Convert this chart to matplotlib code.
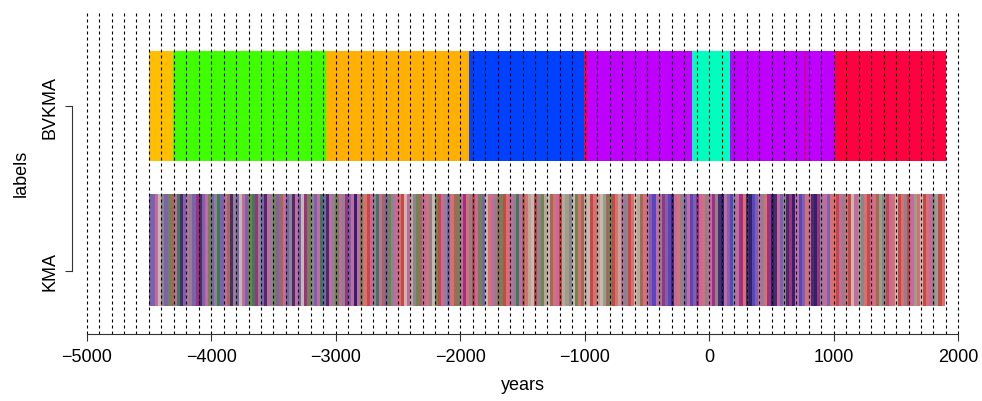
import numpy as np
import matplotlib.pyplot as plt

plt.rcParams['font.family'] = ['Liberation Sans', 'DejaVu Sans']

# BVKMA row: segment edges (years) and colours
bv_edges = [-4500, -4305, -3080, -1932, -1010, -985, -135, 163, 759, 775, 1011, 1900]
bv_colors = ['#FFBF00', '#40FF00', '#FFB000', '#0040FF', '#FF0040', '#BF00FF',
             '#00FFBF', '#BF00FF', '#D000A0', '#BF00FF', '#FF0040']

# KMA row: many thin stripes, read left to right (equal widths)
kma_start, kma_end = -4500, 1890
kma_codes = ("PPKLGPOWKTDPKGPMDPKOPGTPKWDGPLKPOTMGPDKGOPWKPGDKPLMOGPKTPDKG"
             "OKGMPKNKOSRKGTKWPOGKSRLKBGOWKSGLORKGPSWOKMSGRKOPLSKGWORSKGTK"
             "WSBLRGOBLWSKRBEGLOSWBLRSBLEWORSBKGRSLBWSKPUKGMPUDKSGPKUPMKSG"
             "KMGDNKPUGKMSDNUPKGSMNDKPGDMNKUPSKDNMGKPS"
             "SRKGSRLKEGSRKSWEGRKSLRSGRKESLRSKGERS")
palette = {
    'P': '#7a62ae', 'K': '#c46aa0', 'G': '#8c8290', 'O': '#6f8450',
    'D': '#4a2c6a', 'T': '#3d7a5a', 'R': '#c84848', 'S': '#d87070',
    'B': '#b8a898', 'N': '#2c2470', 'U': '#5a44c0', 'M': '#a03080',
    'W': '#a06a5a', 'L': '#c8b8b0', 'E': '#9aa088',
}

row_labels = ['KMA', 'BVKMA']
row_pos = [1, 2]
x_ticks = [-5000, -4000, -3000, -2000, -1000, 0, 1000, 2000]

fig = plt.figure(figsize=(9.82, 4.02), dpi=100)
ax = fig.add_axes([72 / 982, 67 / 402, 901 / 982, 323 / 402])

# BVKMA bar
bv_left = np.array(bv_edges[:-1])
bv_width = np.diff(bv_edges)
ax.bar(bv_left, 0.666, width=bv_width, bottom=1.667, align='edge',
       color=bv_colors, linewidth=0, zorder=1)

# KMA stripes
kma_colors = [palette[c] for c in kma_codes]
k_edges = np.linspace(kma_start, kma_end, len(kma_colors) + 1)
ax.bar(k_edges[:-1], 0.68, width=np.diff(k_edges), bottom=0.788,
       align='edge', color=kma_colors, linewidth=0, zorder=1)

# dotted year grid every century
for yr in np.arange(-5000, 2001, 100):
    ax.axvline(yr, color='black', lw=0.8, ls=(0, (2.7, 2.7)), zorder=3)

ax.set_xlim(-5118, 2118)
ax.set_ylim(0.618, 2.576)

for side in ['top', 'right']:
    ax.spines[side].set_visible(False)
ax.spines['bottom'].set_bounds(-5000, 2000)
ax.spines['left'].set_bounds(1, 2)
for side in ['bottom', 'left']:
    ax.spines[side].set_linewidth(0.8)
    ax.spines[side].set_color('#333333')

ax.set_xticks(x_ticks)
ax.set_xticklabels([str(t).replace('-', '\u2212') for t in x_ticks])
ax.set_yticks(row_pos)
ax.set_yticklabels(row_labels, rotation=90, va='center')
ax.tick_params(axis='both', labelsize=13, length=5, width=0.8,
               color='#333333', pad=5)

ax.set_xlabel('years', fontsize=13, labelpad=8)
ax.set_ylabel('labels', fontsize=13, labelpad=8)

fig.savefig('out.png', dpi=100)
